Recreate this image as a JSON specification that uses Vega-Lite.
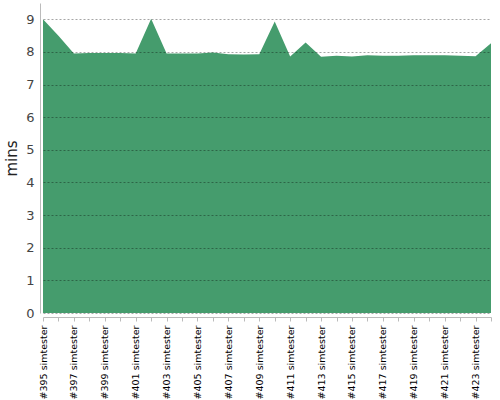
{
  "$schema": "https://vega.github.io/schema/vega-lite/v6.json",
  "autosize": "none",
  "width": 448,
  "height": 310,
  "padding": {"left": 43, "top": 3, "right": 9, "bottom": 87},
  "background": "white",
  "config": {"view": {"stroke": null}, "font": "DejaVu Sans"},
  "data": {"values": [
    {"build": "#395 simtester", "mins": 9.0},
    {"build": "#396 simtester", "mins": 8.5},
    {"build": "#397 simtester", "mins": 7.95},
    {"build": "#398 simtester", "mins": 7.97},
    {"build": "#399 simtester", "mins": 7.97},
    {"build": "#400 simtester", "mins": 7.97},
    {"build": "#401 simtester", "mins": 7.95},
    {"build": "#402 simtester", "mins": 9.02},
    {"build": "#403 simtester", "mins": 7.95},
    {"build": "#404 simtester", "mins": 7.95},
    {"build": "#405 simtester", "mins": 7.95},
    {"build": "#406 simtester", "mins": 7.98},
    {"build": "#407 simtester", "mins": 7.93},
    {"build": "#408 simtester", "mins": 7.92},
    {"build": "#409 simtester", "mins": 7.93},
    {"build": "#410 simtester", "mins": 8.93},
    {"build": "#411 simtester", "mins": 7.86},
    {"build": "#412 simtester", "mins": 8.29},
    {"build": "#413 simtester", "mins": 7.85},
    {"build": "#414 simtester", "mins": 7.88},
    {"build": "#415 simtester", "mins": 7.86},
    {"build": "#416 simtester", "mins": 7.9},
    {"build": "#417 simtester", "mins": 7.88},
    {"build": "#418 simtester", "mins": 7.88},
    {"build": "#419 simtester", "mins": 7.9},
    {"build": "#420 simtester", "mins": 7.9},
    {"build": "#421 simtester", "mins": 7.9},
    {"build": "#422 simtester", "mins": 7.88},
    {"build": "#423 simtester", "mins": 7.87},
    {"build": "#424 simtester", "mins": 8.27}
  ]},
  "mark": {"type": "area", "color": "#459c6d", "opacity": 1},
  "encoding": {
    "x": {
      "field": "build", "type": "ordinal",
      "scale": {"type": "point", "padding": 0},
      "axis": {
        "title": null,
        "labelAngle": 270,
        "labelAlign": "right",
        "labelBaseline": "middle",
        "labelFontSize": 9.5,
        "labelColor": "#000",
        "labelPadding": 4,
        "labelExpr": "parseInt(substring(datum.value,1,4)) % 2 == 1 ? datum.value : ''",
        "labelOverlap": false,
        "offset": 4,
        "tickSize": 4,
        "tickColor": "#bbb",
        "domainColor": "#bbb",
        "grid": false
      }
    },
    "y": {
      "field": "mins", "type": "quantitative",
      "scale": {"domain": [0, 9.5], "nice": false},
      "axis": {
        "title": "mins",
        "titleFontSize": 15,
        "titleFontWeight": 500,
        "titleColor": "#222",
        "titlePadding": 6,
        "values": [0,1,2,3,4,5,6,7,8,9],
        "labelFontSize": 13,
        "labelColor": "#444",
        "labelPadding": 6,
        "ticks": false,
        "offset": 3,
        "domainColor": "#bbb",
        "grid": true,
        "gridColor": "#000",
        "gridOpacity": 0.35,
        "gridDash": [2, 2],
        "zindex": 1
      }
    }
  }
}
